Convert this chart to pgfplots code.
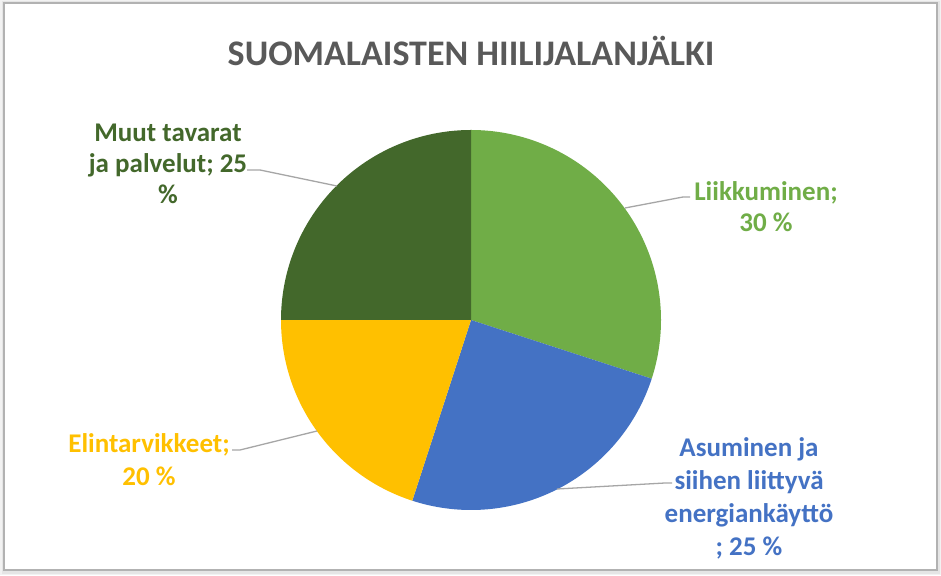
\documentclass[border=0pt]{standalone}
\usepackage{pgfplots}
\usepackage{pgfplotstable}
\pgfplotsset{compat=1.18}
\usepackage{fontspec}
\setmainfont{Carlito}
\definecolor{slicecolor0}{HTML}{70AD47}
\definecolor{slicecolor1}{HTML}{4472C4}
\definecolor{slicecolor2}{HTML}{FFC000}
\definecolor{slicecolor3}{HTML}{43682B}
\definecolor{titlegray}{HTML}{595959}
\definecolor{leader}{HTML}{A6A6A6}
\pgfplotstableread{
name value
Liikkuminen 30
Asuminen 25
Elintarvikkeet 20
Muut 25
}\piedata
\begin{document}
\begin{tikzpicture}
\path[use as bounding box] (0,0) rectangle (941pt,575pt);
% frame with soft shadow
\fill[black!5] (0,0) rectangle (941pt,575pt);
\fill[black!10] (1.5pt,1.5pt) rectangle (939.5pt,574pt);
\fill[white,draw=black!30,line width=1.2pt] (4pt,5pt) rectangle (937pt,572pt);
\begin{axis}[x=1pt,y=1pt,xmin=0,xmax=941,ymin=0,ymax=575,hide axis,clip=false,anchor=south west,at={(0,0)}]
\def\startangle{90}
\pgfplotsforeachungrouped \i in {0,...,3}{%
  \pgfplotstablegetelem{\i}{value}\of\piedata
  \let\v\pgfplotsretval
  \pgfmathsetmacro\endangle{\startangle-3.6*\v}%
  \edef\temp{\noexpand\fill[color=slicecolor\i] (axis cs:471,255) -- ++(\startangle:190pt) arc[start angle=\startangle, end angle=\endangle, radius=190pt] -- cycle;}%
  \temp
  \global\let\startangle\endangle
}
% leader lines
\draw[leader,line width=1.3pt] (axis cs:337,389) -- (axis cs:260,405) -- (axis cs:247,405);
\draw[leader,line width=1.3pt] (axis cs:625,367) -- (axis cs:683,378) -- (axis cs:690,378);
\draw[leader,line width=1.3pt] (axis cs:317,144) -- (axis cs:240,125) -- (axis cs:232,125);
\draw[leader,line width=1.3pt] (axis cs:557,86) -- (axis cs:665,92) -- (axis cs:672,92);
% title
\node[text=titlegray,font=\fontsize{36}{42}\selectfont\bfseries] at (axis cs:471,524) {SUOMALAISTEN HIILIJALANJÄLKI};
% labels
\node[text=slicecolor3,align=center,font=\fontsize{27}{31}\selectfont\bfseries] at (axis cs:168,411) {Muut tavarat\\ja palvelut; 25\\\%};
\node[text=slicecolor0,align=center,font=\fontsize{27}{31}\selectfont\bfseries] at (axis cs:766,368) {Liikkuminen;\\30 \%};
\node[text=slicecolor1,align=center,font=\fontsize{27}{33}\selectfont\bfseries] at (axis cs:749,77) {Asuminen ja\\siihen liittyvä\\energiankäyttö\\; 25 \%};
\node[text=slicecolor2,align=center,font=\fontsize{27}{33}\selectfont\bfseries] at (axis cs:149,115) {Elintarvikkeet;\\20 \%};
\end{axis}
\end{tikzpicture}
\end{document}
